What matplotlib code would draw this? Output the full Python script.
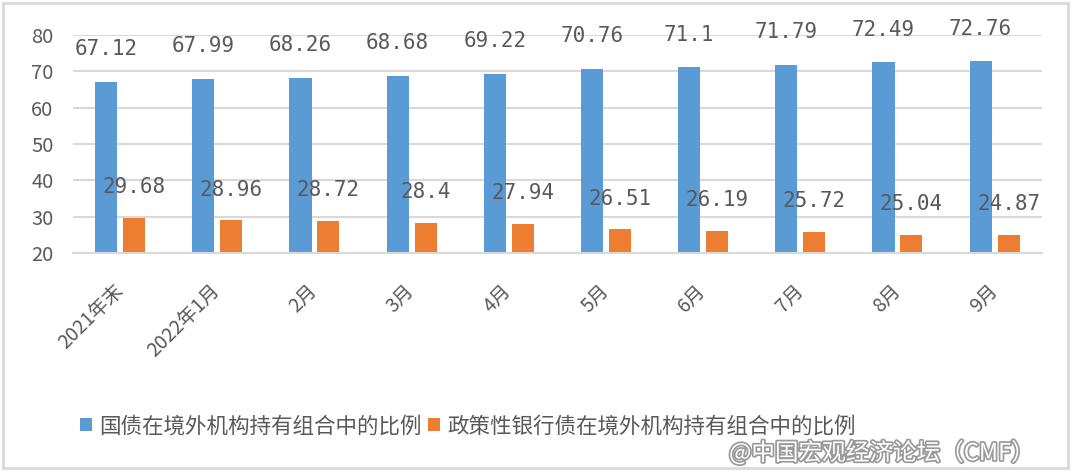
import matplotlib
matplotlib.use("Agg")
import matplotlib.pyplot as plt
import matplotlib.patheffects as pe
from matplotlib.patches import Rectangle
import numpy as np

plt.rcParams["font.family"] = ["Noto Sans CJK SC", "DejaVu Sans"]

categories = ["2021年末", "2022年1月", "2月", "3月", "4月", "5月", "6月", "7月", "8月", "9月"]
gov_bond = [67.12, 67.99, 68.26, 68.68, 69.22, 70.76, 71.1, 71.79, 72.49, 72.76]
policy_bond = [29.68, 28.96, 28.72, 28.4, 27.94, 26.51, 26.19, 25.72, 25.04, 24.87]
gov_label = "国债在境外机构持有组合中的比例"
policy_label = "政策性银行债在境外机构持有组合中的比例"

blue, orange = "#5B9BD5", "#ED7D31"
grey_txt = "#595959"

fig = plt.figure(figsize=(10.8, 4.73), dpi=100)
ax = fig.add_axes([0.0676, 0.465, 0.897, 0.461])

x = np.arange(len(categories))
w, off = 0.227, 0.144
ax.bar(x - off, np.array(gov_bond) - 20, w, bottom=20, color=blue, label=gov_label, zorder=2)
ax.bar(x + off, np.array(policy_bond) - 20, w, bottom=20, color=orange, label=policy_label, zorder=2)

# value labels sit well above the bars, like the source
for xi, v in zip(x, gov_bond):
    ax.text(xi - off, v + 9.0, f"{v:g}", ha="center", va="center", fontsize=15,
            family="DejaVu Sans Mono", color=grey_txt, zorder=3)
for xi, v in zip(x, policy_bond):
    ax.text(xi + off, v + 8.5, f"{v:g}", ha="center", va="center", fontsize=15,
            family="DejaVu Sans Mono", color=grey_txt, zorder=3)

ax.set_ylim(20, 80)
ax.set_xlim(-0.485, 9.485)
ax.set_yticks(range(20, 81, 10))
ax.yaxis.grid(True, color="#d9d9d9", lw=1.5, zorder=0)
for s in ["top", "right", "left"]:
    ax.spines[s].set_visible(False)
ax.spines["bottom"].set_color("#d9d9d9")
ax.spines["bottom"].set_linewidth(1.5)
ax.tick_params(axis="both", length=0, colors=grey_txt)
ax.tick_params(axis="y", pad=14, labelsize=14.5)
ax.set_xticks(x)
ax.set_xticklabels(categories, rotation=45, ha="right", va="center", rotation_mode="anchor",
                   fontsize=14)
ax.tick_params(axis="x", pad=25)

leg = fig.legend(loc="center left", bbox_to_anchor=(0.074, 0.099), ncol=2, frameon=False,
                 fontsize=15.5, handlelength=0.55, handleheight=0.55, handletextpad=0.35,
                 columnspacing=0.3, borderpad=0, borderaxespad=0, labelcolor=grey_txt)

# light border around the picture
fig.add_artist(Rectangle((3 / 1080, 5 / 473), 1065 / 1080, 465 / 473, transform=fig.transFigure,
                         fill=False, ec="#d9d9d9", lw=2))

# watermark, kept just under the legend line
fig.text(0.675, 0.043, "@中国宏观经济论坛（CMF）", fontsize=17, color="white", va="center",
         path_effects=[pe.withStroke(linewidth=2.5, foreground="#9a9a9a")], zorder=10)

fig.savefig("out.png", dpi=100)
